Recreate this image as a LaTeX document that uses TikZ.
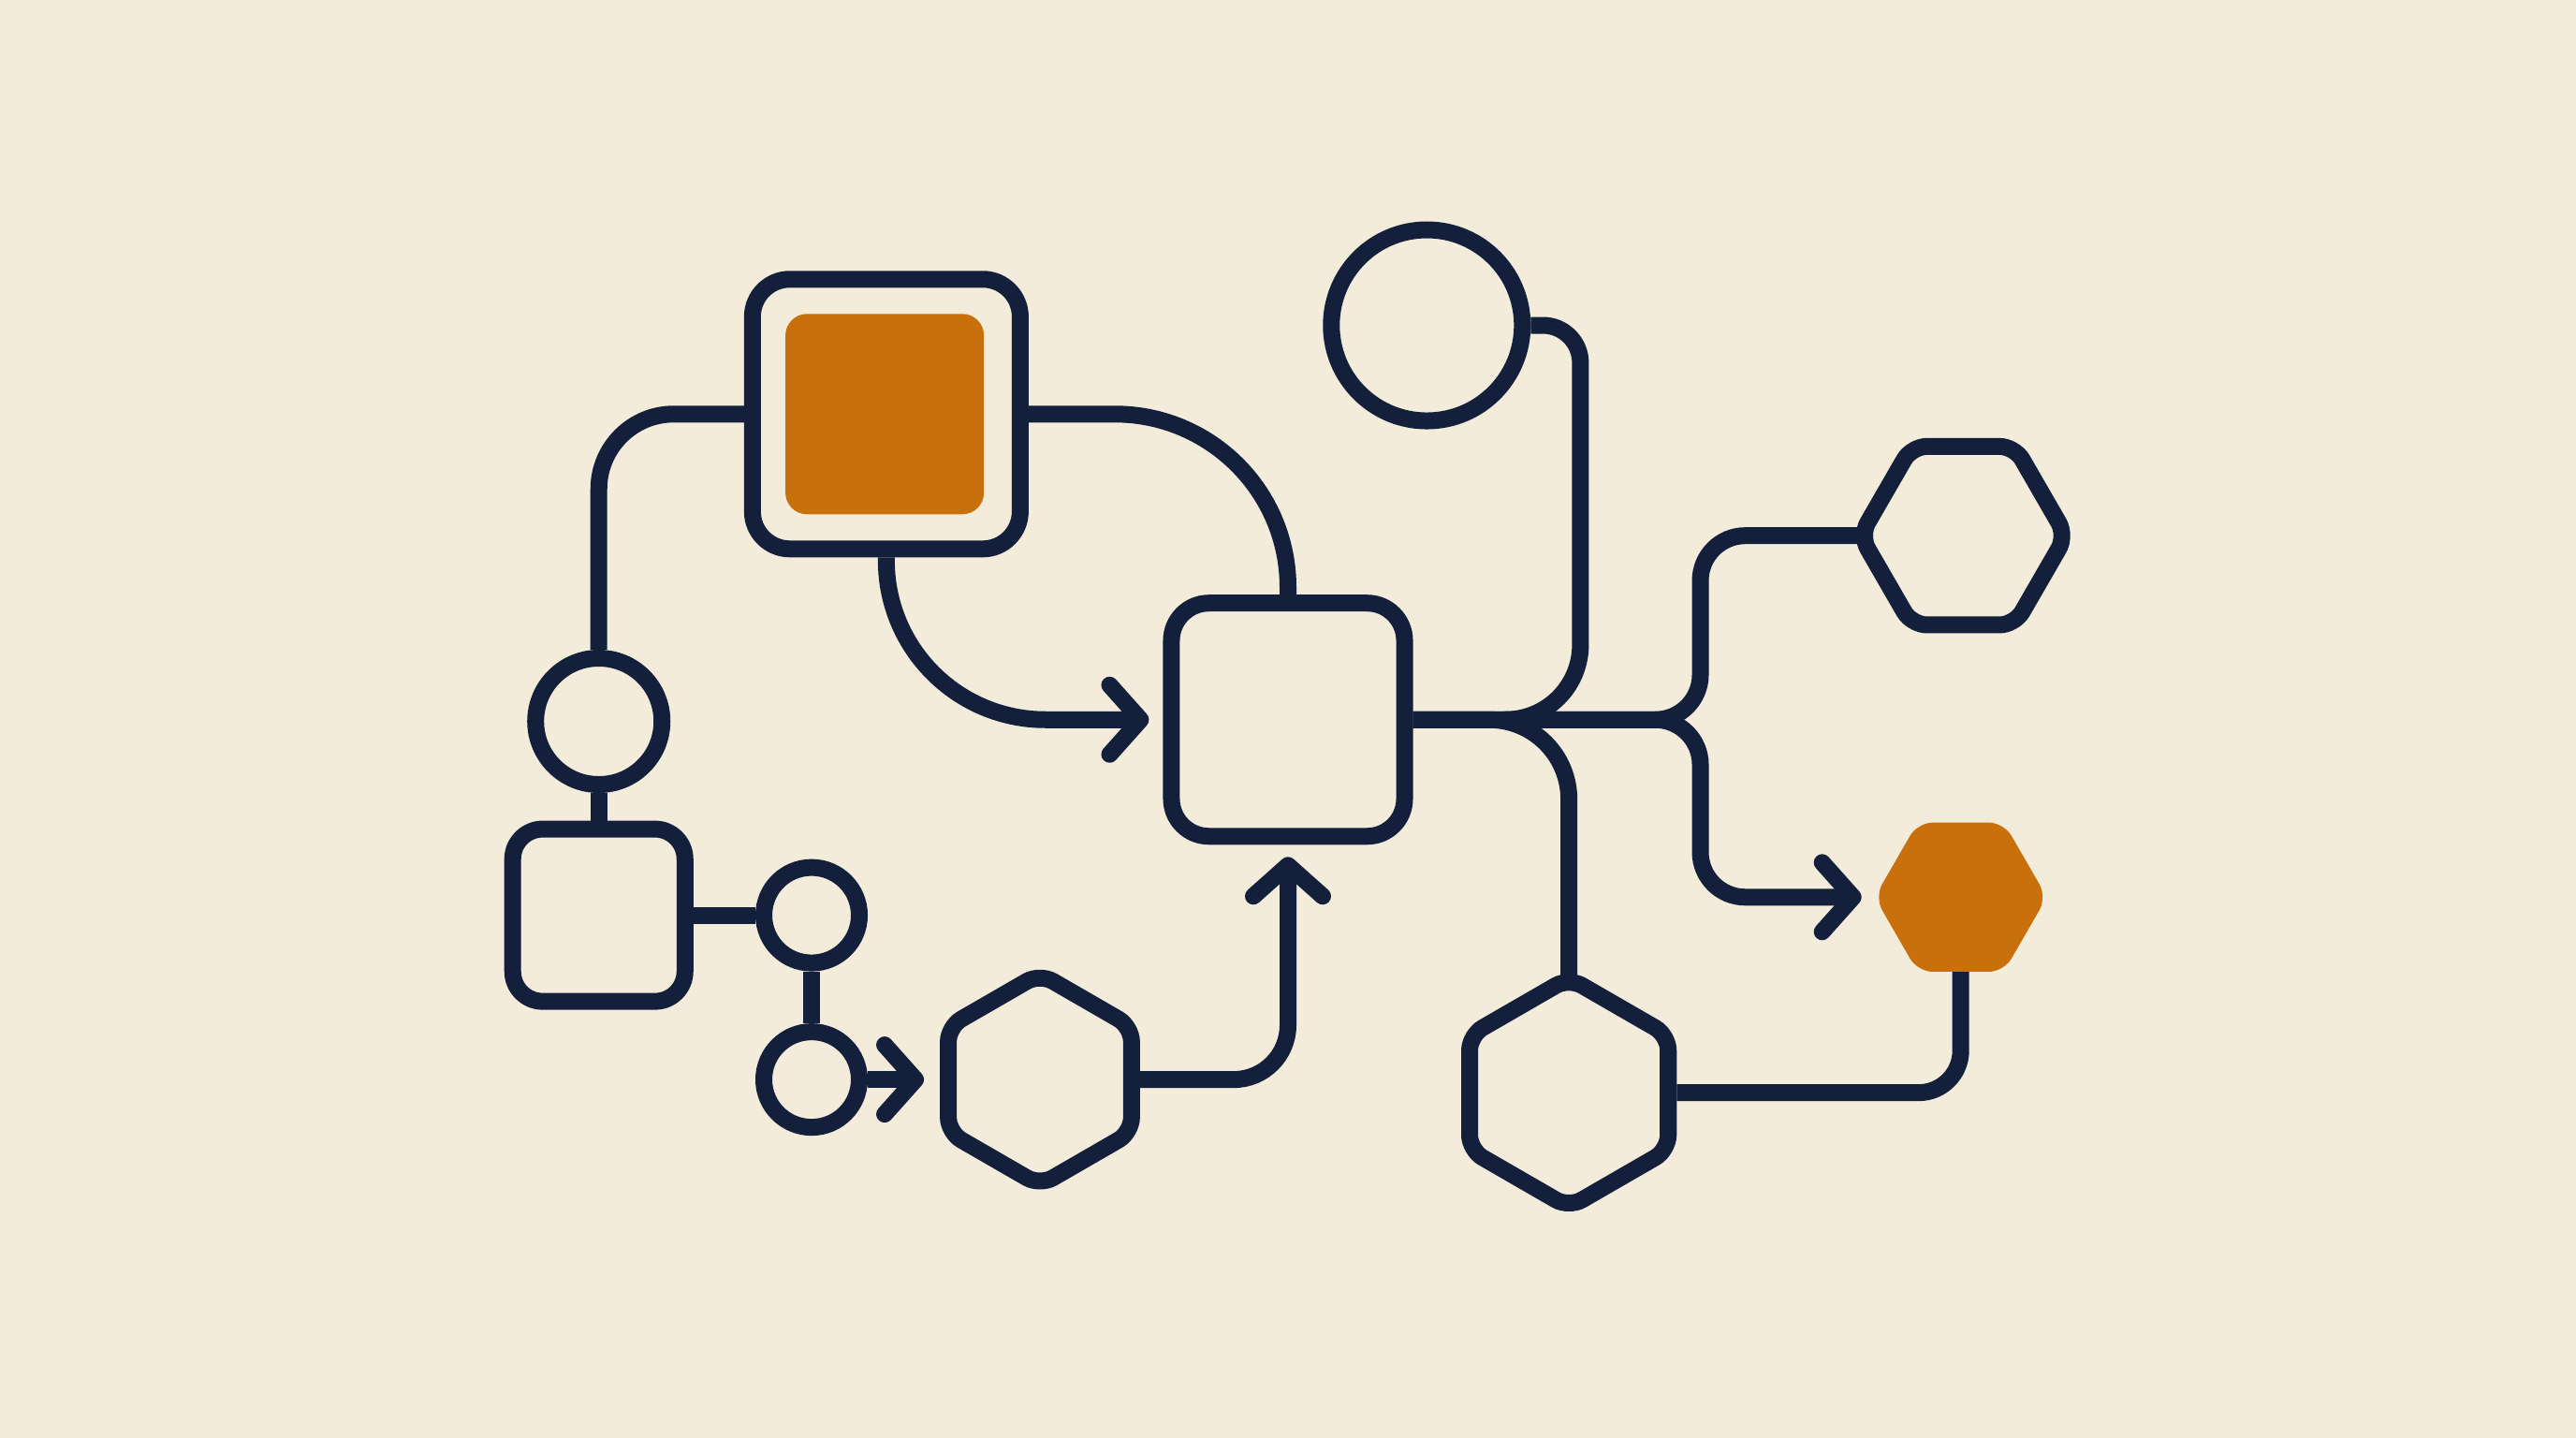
\documentclass[tikz,border=0pt]{standalone}
\usepackage{xcolor}
\usepackage{tikz}
\usetikzlibrary{shapes.geometric, arrows.meta}

\definecolor{ink}{HTML}{14203B}
\definecolor{amber}{HTML}{C8700C}
\definecolor{paper}{HTML}{F3ECDB}

\begin{document}
\begin{tikzpicture}[x=0.01755cm, y=-0.01755cm,
    link/.style={ink, line width=0.18cm},
    flow/.style={link, -{Straight Barb[length=0.33cm, width=0.74cm, round]}},
    box/.style={rectangle, draw=ink, line width=0.18cm, rounded corners=0.4cm, inner sep=0pt},
    ring/.style={circle, draw=ink, line width=0.18cm, inner sep=0pt},
    hex/.style={regular polygon, regular polygon sides=6, draw=ink, line width=0.18cm, rounded corners=0.16cm, inner sep=0pt}]

    \fill[paper] (0, 0) rectangle (1568, 875);

    \node[box, minimum width=2.86cm, minimum height=2.88cm] at (539.5, 252) (frame) {};
    \node[rectangle, fill=amber, rounded corners=0.23cm, minimum width=2.12cm, minimum height=2.14cm] at (538.5, 252) (core) {};
    \node[ring, minimum size=1.35cm] at (364.5, 439) (ringl) {};
    \node[box, rounded corners=0.32cm, minimum size=1.84cm] at (364.5, 557) (boxl) {};
    \node[ring, minimum size=1.02cm] at (494, 557) (dotu) {};
    \node[ring, minimum size=1.02cm] at (494, 657) (dotd) {};
    \node[hex, shape border rotate=90, minimum size=2.26cm] at (633, 657) (hexl) {};
    \node[box, minimum size=2.49cm] at (784, 438) (mid) {};
    \node[ring, minimum size=2.04cm] at (868.5, 198) (ringt) {};
    \node[hex, minimum size=2.2cm] at (1195, 326) (hexr) {};
    \node[hex, draw=none, fill=amber, outer sep=0pt, minimum size=1.84cm] at (1193.5, 546) (hexo) {};
    \node[hex, shape border rotate=90, minimum size=2.45cm] at (955, 665) (hexb) {};

    \coordinate (drop) at (962, 438);
    \coordinate (merge) at (915, 438);
    \coordinate (fork) at (1035, 438);

    % left branch
    \draw[link, rounded corners=0.8cm] (ringl.north) |- (frame.west);
    \draw[link] (ringl.south) -- (boxl.north);
    \draw[link] (boxl.east) -- (dotu.west);
    \draw[link] (dotu.south) -- (dotd.north);
    \draw[flow] (dotd.east) -- ([xshift=-0.17cm]hexl.180);
    \draw[flow, rounded corners=0.58cm] (hexl.0) -| ([yshift=-0.13cm]mid.south);

    % into the middle box
    \draw[flow, rounded corners=1.7cm] (frame.south) |- ([xshift=-0.15cm]mid.west);
    \draw[link, rounded corners=1.85cm] (frame.east) -| (mid.north);
    \draw[link, rounded corners=0.4cm] (ringt.east) -- (ringt.east -| drop) [rounded corners=0.8cm] -- (drop) -- (merge);

    % right branch
    \draw[link, rounded corners=0.85cm] (mid.east) -| ([yshift=-0.12cm]hexb.90);
    \draw[link, rounded corners=0.48cm] (mid.east) -- (fork) |- ([xshift=0.08cm]hexr.180);
    \draw[flow, rounded corners=0.48cm] (mid.east) -- (fork) |- ([xshift=-0.14cm]hexo.180);
    \draw[link, rounded corners=0.45cm] (hexo.-90) |- (hexb.0);
\end{tikzpicture}
\end{document}
